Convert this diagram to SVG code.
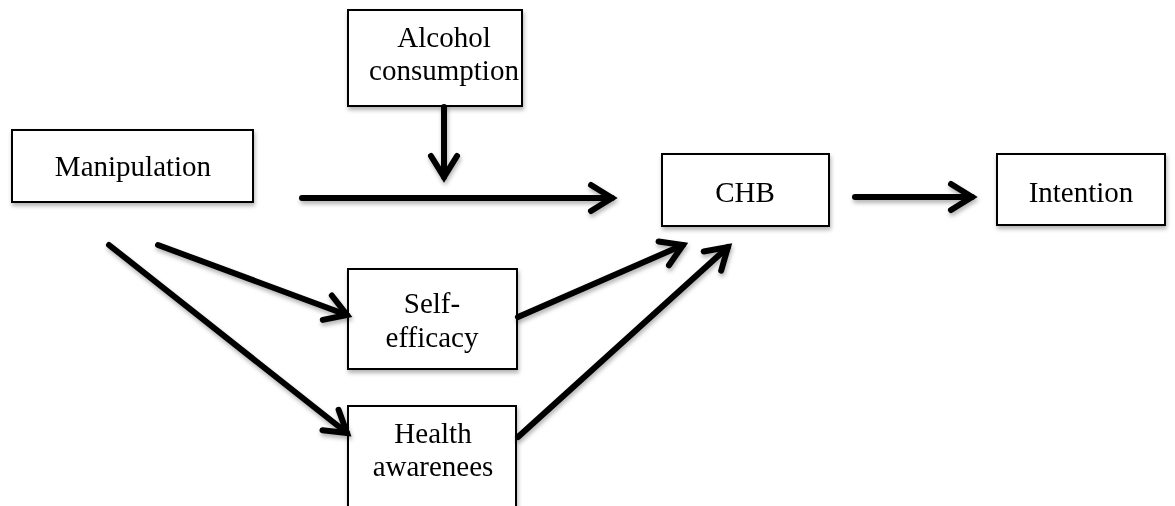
<svg xmlns="http://www.w3.org/2000/svg" width="1175" height="506" viewBox="0 0 1175 506">
<style>
.box{fill:#fff;stroke:#000;stroke-width:2}
.lbl{font-family:"Liberation Serif","Times New Roman",serif;font-size:29px;fill:#000;text-anchor:middle}
.conn{fill:none;stroke:#000;stroke-width:6;stroke-linecap:round}
</style>
<defs>
<filter id="sh" x="-20%" y="-20%" width="140%" height="160%">
<feDropShadow dx="1" dy="3" stdDeviation="2" flood-color="#000" flood-opacity="0.3"/>
</filter>
<marker id="ah" markerUnits="userSpaceOnUse" markerWidth="40" markerHeight="40" viewBox="-30 -20 40 40" refX="0" refY="0" orient="auto">
<path d="M-21,-13 L0,0 L-21,13" fill="none" stroke="#000" stroke-width="6" stroke-linecap="round" stroke-linejoin="miter"/>
</marker>
</defs>
<rect width="1175" height="506" fill="#fff"/>
<g id="alcohol" filter="url(#sh)">
<rect class="box" x="348" y="10" width="174" height="96"/>
<text class="lbl" x="444" y="47">Alcohol</text>
<text class="lbl" x="444" y="80">consumption</text>
</g>
<g id="manipulation" filter="url(#sh)">
<rect class="box" x="12" y="130" width="241" height="72"/>
<text class="lbl" x="133" y="176">Manipulation</text>
</g>
<g id="chb" filter="url(#sh)">
<rect class="box" x="662" y="154" width="167" height="72"/>
<text class="lbl" x="745" y="202">CHB</text>
</g>
<g id="intention" filter="url(#sh)">
<rect class="box" x="997" y="154" width="168" height="71"/>
<text class="lbl" x="1081" y="202">Intention</text>
</g>
<g id="selfefficacy" filter="url(#sh)">
<rect class="box" x="348" y="269" width="169" height="100"/>
<text class="lbl" x="432" y="313">Self-</text>
<text class="lbl" x="432" y="347">efficacy</text>
</g>
<g id="health" filter="url(#sh)">
<rect class="box" x="348" y="406" width="168" height="110"/>
<text class="lbl" x="433" y="443">Health</text>
<text class="lbl" x="433" y="476">awarenees</text>
</g>
<g id="connectors" filter="url(#sh)">
<line class="conn" x1="444" y1="107" x2="444" y2="177" marker-end="url(#ah)"/>
<line class="conn" x1="302" y1="198" x2="612" y2="198" marker-end="url(#ah)"/>
<line class="conn" x1="855" y1="197" x2="972" y2="197" marker-end="url(#ah)"/>
<line class="conn" x1="158" y1="245" x2="347" y2="315" marker-end="url(#ah)"/>
<line class="conn" x1="109" y1="245" x2="347" y2="433" marker-end="url(#ah)"/>
<line class="conn" x1="518" y1="317" x2="683" y2="245" marker-end="url(#ah)"/>
<line class="conn" x1="518" y1="437" x2="728" y2="247" marker-end="url(#ah)"/>
</g>
</svg>
